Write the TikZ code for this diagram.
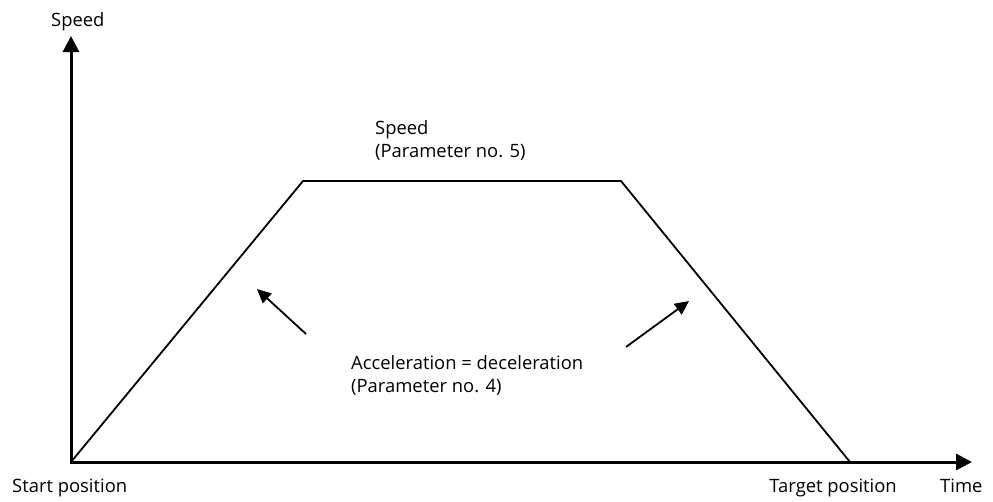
\documentclass[tikz,border=0pt]{standalone}
\usepackage{fontspec}
\setmainfont{Open Sans}
\usetikzlibrary{arrows.meta}
\begin{document}
\begin{tikzpicture}[x=1pt,y=-1pt,
  axis/.style={line width=3pt,-{Triangle[length=16pt,width=16pt]}},
  curve/.style={line width=1.8pt,line join=miter},
  ptr/.style={line width=1.8pt,-{Triangle[length=14pt,width=13pt]}},
  lbl/.style={font=\fontsize{18.4}{23}\selectfont,inner sep=0pt,align=left}]
\useasboundingbox (0,0) rectangle (993,501);
\coordinate (O) at (71,462);
\coordinate (Ytip) at (71,36);
\coordinate (Xtip) at (972,462);
\coordinate (P1) at (303,181);
\coordinate (P2) at (621,181);
\coordinate (P3) at (850,462);
\draw[curve] (O) -- (P1) -- (P2) -- (P3);
\draw[axis] (O) -- (Ytip);
\draw[axis] ([xshift=-1.5pt]O) -- (Xtip);
\coordinate (a1s) at (306,334);
\coordinate (a1e) at (257,289);
\coordinate (a2s) at (626,347);
\coordinate (a2e) at (689,301);
\draw[ptr] (a1s) -- (a1e);
\draw[ptr] (a2s) -- (a2e);
\node[lbl,anchor=base west] (ylab) at (51,26) {Speed};
\node[lbl,anchor=base west] (vlab) at (375,157) {Speed\\(Parameter no. 5)};
\node[lbl,anchor=base west] (alab) at (351,392) {Acceleration = deceleration\\(Parameter no. 4)};
\node[lbl,anchor=base west] (start) at (12,492) {Start position};
\node[lbl,anchor=base east] (target) at (897,492) {Target position};
\node[lbl,anchor=base west] (time) at (940,492) {Time};
\end{tikzpicture}
\end{document}
